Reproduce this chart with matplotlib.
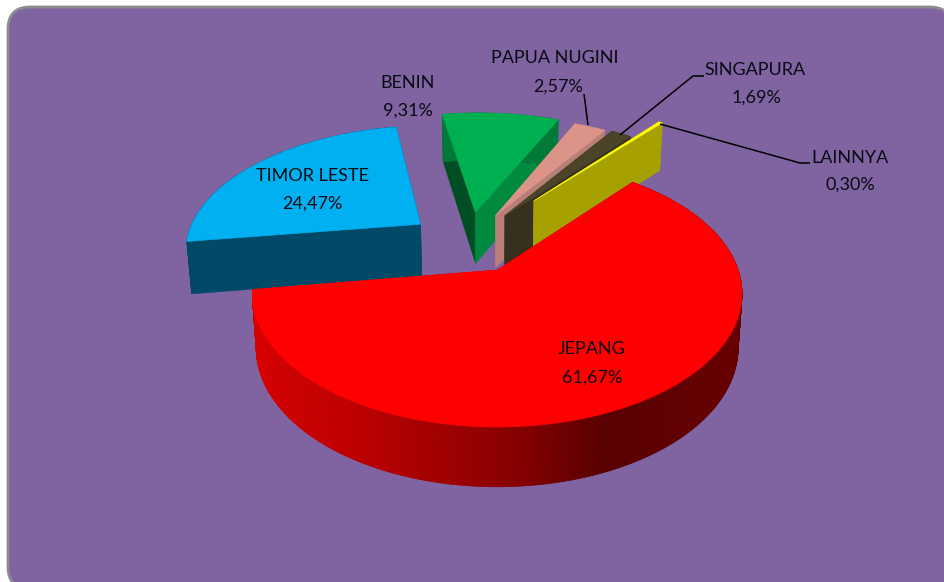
import numpy as np
import matplotlib
matplotlib.use("Agg")
import matplotlib.pyplot as plt
from matplotlib.patches import FancyBboxPatch, Polygon

plt.rcParams['font.family'] = ['Lato', 'DejaVu Sans']

# ---- data ----
labels = ["JEPANG", "TIMOR LESTE", "BENIN", "PAPUA NUGINI", "SINGAPURA", "LAINNYA"]
values = [61.67, 24.47, 9.31, 2.57, 1.69, 0.30]
value_labels = ["61,67%", "24,47%", "9,31%", "2,57%", "1,69%", "0,30%"]
explode = [0.26, 0.26, 0.26, 0.26, 0.28, 0.47]
radius = [1.0, 1.012, 1.06, 1.04, 1.03, 1.08]
top_colors = ["#FF0000", "#00B0F0", "#00B050", "#DD9488", "#4C4429", "#FFFF00"]
start_face = ["#B00000", "#004A68", "#004E24", "#B87E78", "#37301E", "#A6A000"]
end_face = ["#B00000", "#004A68", "#008A40", "#B87E78", "#37301E", "#A6A000"]
wall_colors = [None, "#004A68", "#007A38", "#B87E78", "#37301E", "#A6A000"]
label_pos = [(592, 349), (312, 176), (408, 83), (555, 58), (755, 70), (850, 158)]
value_pos = [(592, 378), (312, 204), (408, 111), (558, 87), (756, 98), (850, 185)]
leaders = {
    "PAPUA NUGINI": [(584, 94), (588, 125)],
    "SINGAPURA": [(704, 76), (693, 76), (620, 135)],
    "LAINNYA": [(660, 124), (800, 163), (810, 163)],
}
first_angle = 39.6       # degrees clockwise from the back of the pie
draw_order = [2, 1, 3, 4, 5, 0]

# ---- projection of the pie plane ----
OX, OY = 497.0, 270.0
SX, SY, K = 241.0, 129.3, 0.176
CX, CY = -0.127, 0.226
SHRINK = 0.984


def project(X, Y):
    s = 1.0 / (1.0 + K * Y)
    return OX + SX * X * s, OY - SY * Y * s


def drop(x, y):
    """Lower rim of the pie for a point on the top face."""
    depth = 53.5 + (y - OY) * 0.04
    return OX + (x - OX) * SHRINK, y + depth


RED_X = [252, 373, 507, 607, 723, 745]
RED_R = [216, 184, 138, 88, 102, 104]

fig = plt.figure(figsize=(9.45, 5.82), dpi=100, facecolor="white")
ax = fig.add_axes([0, 0, 1, 1])
ax.set_xlim(0, 945)
ax.set_ylim(582, 0)
ax.axis("off")

ax.add_patch(FancyBboxPatch((8, 7), 944, 582, boxstyle="round,pad=0,rounding_size=22",
                            fc="#8064A2", ec="#8C8C8C", lw=2, zorder=0))

fractions = np.array(values) / np.sum(values)
edges = first_angle + 360.0 * np.concatenate([[0], np.cumsum(fractions)])

z = 1
for i in draw_order:
    a0, a1 = edges[i], edges[i + 1]
    mid = np.radians((a0 + a1) / 2)
    ax_x = CX + explode[i] * np.sin(mid)
    ax_y = CY + explode[i] * np.cos(mid)
    th = np.radians(np.linspace(a0, a1, max(int(a1 - a0) * 2, 4)))
    rim_x, rim_y = project(ax_x + radius[i] * np.sin(th), ax_y + radius[i] * np.cos(th))
    ap = project(ax_x, ax_y)
    ap_b = drop(*ap)

    # cut faces
    for k, col in ((0, start_face[i]), (-1, end_face[i])):
        rb = drop(rim_x[k], rim_y[k])
        ax.add_patch(Polygon([ap, (rim_x[k], rim_y[k]), rb, ap_b], closed=True,
                             fc=col, ec=col, lw=0.4, zorder=z))
        z += 1
    # outer wall
    for j in range(len(th) - 1):
        xm = (rim_x[j] + rim_x[j + 1]) / 2
        if wall_colors[i] is None:
            col = (np.interp(xm, RED_X, RED_R) / 255.0, 0, 0)
        else:
            col = wall_colors[i]
        b0 = drop(rim_x[j], rim_y[j])
        b1 = drop(rim_x[j + 1], rim_y[j + 1])
        ax.add_patch(Polygon([(rim_x[j], rim_y[j]), (rim_x[j + 1], rim_y[j + 1]), b1, b0],
                             closed=True, fc=col, ec=col, lw=0.5, zorder=z))
    z += 1
    # top face
    ax.add_patch(Polygon([ap] + list(zip(rim_x, rim_y)), closed=True,
                         fc=top_colors[i], ec=top_colors[i], lw=0.4, zorder=z))
    z += 1

for pts in leaders.values():
    xs, ys = zip(*pts)
    ax.plot(xs, ys, color="black", lw=1.1, zorder=z, solid_capstyle="butt")

for name, val, lp, vp in zip(labels, value_labels, label_pos, value_pos):
    ax.text(lp[0], lp[1], name, ha="center", va="center", fontsize=13, color="#0A0A14", zorder=z + 1)
    ax.text(vp[0], vp[1], val, ha="center", va="center", fontsize=13, color="#0A0A14", zorder=z + 1)

fig.savefig("out.png", dpi=100, facecolor="white")
